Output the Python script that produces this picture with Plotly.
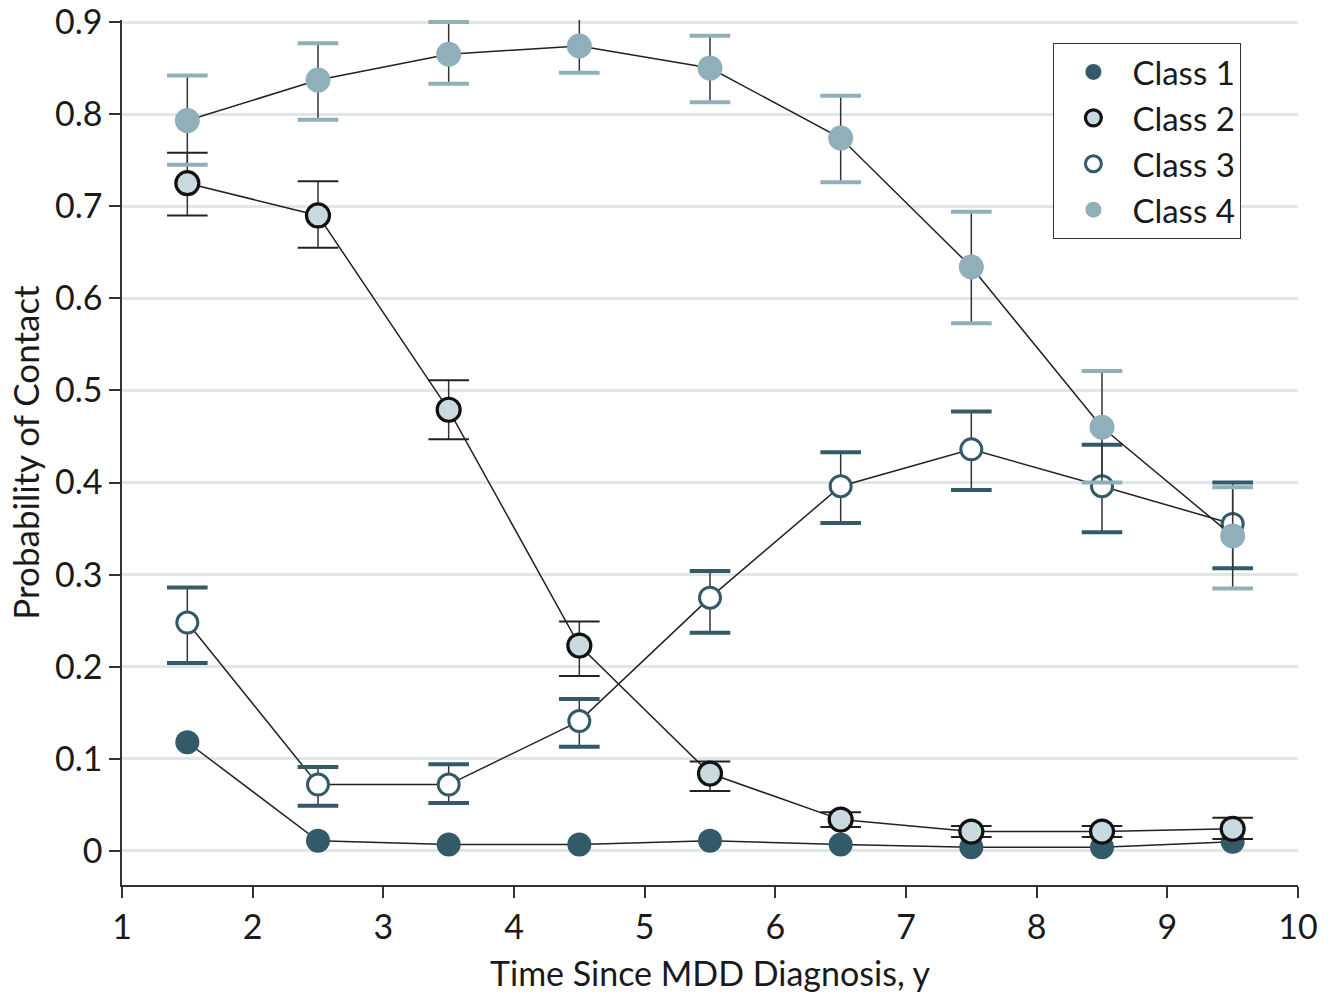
import plotly.graph_objects as go

years = [1.5, 2.5, 3.5, 4.5, 5.5, 6.5, 7.5, 8.5, 9.5]

class1 = [0.118, 0.011, 0.007, 0.007, 0.011, 0.007, 0.004, 0.004, 0.010]

class2 = [0.725, 0.690, 0.479, 0.223, 0.084, 0.034, 0.021, 0.021, 0.024]
class2_hi = [0.758, 0.727, 0.511, 0.249, 0.097, 0.042, 0.027, 0.027, 0.036]
class2_lo = [0.690, 0.655, 0.447, 0.190, 0.065, 0.026, 0.015, 0.015, 0.013]

class3 = [0.248, 0.072, 0.072, 0.141, 0.275, 0.396, 0.436, 0.396, 0.355]
class3_hi = [0.286, 0.091, 0.094, 0.165, 0.304, 0.433, 0.477, 0.441, 0.400]
class3_lo = [0.204, 0.049, 0.052, 0.113, 0.237, 0.356, 0.392, 0.346, 0.307]

class4 = [0.793, 0.837, 0.865, 0.874, 0.850, 0.774, 0.634, 0.460, 0.342]
class4_hi = [0.842, 0.877, 0.900, 0.903, 0.885, 0.820, 0.694, 0.521, 0.395]
class4_lo = [0.745, 0.794, 0.833, 0.845, 0.813, 0.726, 0.573, 0.400, 0.285]

x_ticks = [1, 2, 3, 4, 5, 6, 7, 8, 9, 10]
y_ticks = [0, 0.1, 0.2, 0.3, 0.4, 0.5, 0.6, 0.7, 0.8, 0.9]
y_labels = ["0", "0.1", "0.2", "0.3", "0.4", "0.5", "0.6", "0.7", "0.8", "0.9"]

DARK = "#325a68"
LIGHT = "#8fafbb"
PALE = "#c9d9e0"
STEM = "#333333"
FONT = "Lato"

fig = go.Figure()


def add_class(name, vals, hi, lo, fill, border, bw, size, cap_color, cap_w):
    if hi is not None:
        plus = [h - v for h, v in zip(hi, vals)]
        minus = [v - l for v, l in zip(vals, lo)]
        fig.add_trace(go.Scatter(
            x=years, y=vals, mode="lines", showlegend=False, hoverinfo="skip",
            line=dict(color="#222222", width=1.5),
            error_y=dict(type="data", symmetric=False, array=plus, arrayminus=minus,
                         color=STEM, thickness=1.5, width=0),
            cliponaxis=False,
        ))
        fig.add_trace(go.Scatter(
            x=years + years, y=hi + lo, mode="markers", showlegend=False, hoverinfo="skip",
            marker=dict(symbol="line-ew", size=29, color=cap_color,
                        line=dict(color=cap_color, width=cap_w)),
            cliponaxis=False,
        ))
    else:
        fig.add_trace(go.Scatter(
            x=years, y=vals, mode="lines", showlegend=False, hoverinfo="skip",
            line=dict(color="#222222", width=1.5), cliponaxis=False,
        ))
    fig.add_trace(go.Scatter(
        x=years, y=vals, mode="markers", name=name,
        marker=dict(size=size, color=fill, line=dict(color=border, width=bw)),
        cliponaxis=False,
    ))


add_class("Class 1", class1, None, None, DARK, DARK, 0, 24, None, 0)
add_class("Class 2", class2, class2_hi, class2_lo, PALE, "#111111", 3.2, 23, "#222222", 2)
add_class("Class 3", class3, class3_hi, class3_lo, "#ffffff", DARK, 3, 21, DARK, 4)
add_class("Class 4", class4, class4_hi, class4_lo, LIGHT, LIGHT, 0, 25, LIGHT, 4)

fig.update_layout(
    width=1337, height=1002,
    margin=dict(l=122, r=39, t=20, b=117, autoexpand=False),
    plot_bgcolor="white", paper_bgcolor="white",
    font=dict(family=FONT, size=33, color="#1a1a1a"),
    showlegend=True,
    legend=dict(
        x=0.792, y=0.9734, xanchor="left", yanchor="top",
        bordercolor="#333333", borderwidth=1, bgcolor="white",
        font=dict(family=FONT, size=33, color="#1a1a1a"),
        itemsizing="trace", itemwidth=68,
    ),
)

fig.update_xaxes(
    range=[1, 10], tickvals=x_ticks, ticks="outside", ticklen=11, tickwidth=1.5,
    tickcolor="#333333", showline=True, linecolor="#333333", linewidth=1.5,
    showgrid=False, zeroline=False, automargin=False, ticklabeloverflow="allow",
    title=dict(text="Time Since MDD Diagnosis, y", font=dict(size=34), standoff=18),
    tickfont=dict(size=34),
)
fig.update_yaxes(
    range=[-0.037, 0.9022], tickvals=y_ticks, ticktext=y_labels, ticks="outside",
    ticklen=11, tickwidth=1.5, tickcolor="#333333", showline=True,
    linecolor="#333333", linewidth=1.5, automargin=False, ticklabeloverflow="allow",
    showgrid=True, gridcolor="#e1e6e9", gridwidth=2.5, zeroline=False,
    title=dict(text="Probability of Contact", font=dict(size=35), standoff=5),
    tickfont=dict(size=34),
)

fig.write_html("out.html", config={"displayModeBar": False},
               post_script="document.body.style.margin='0';")
